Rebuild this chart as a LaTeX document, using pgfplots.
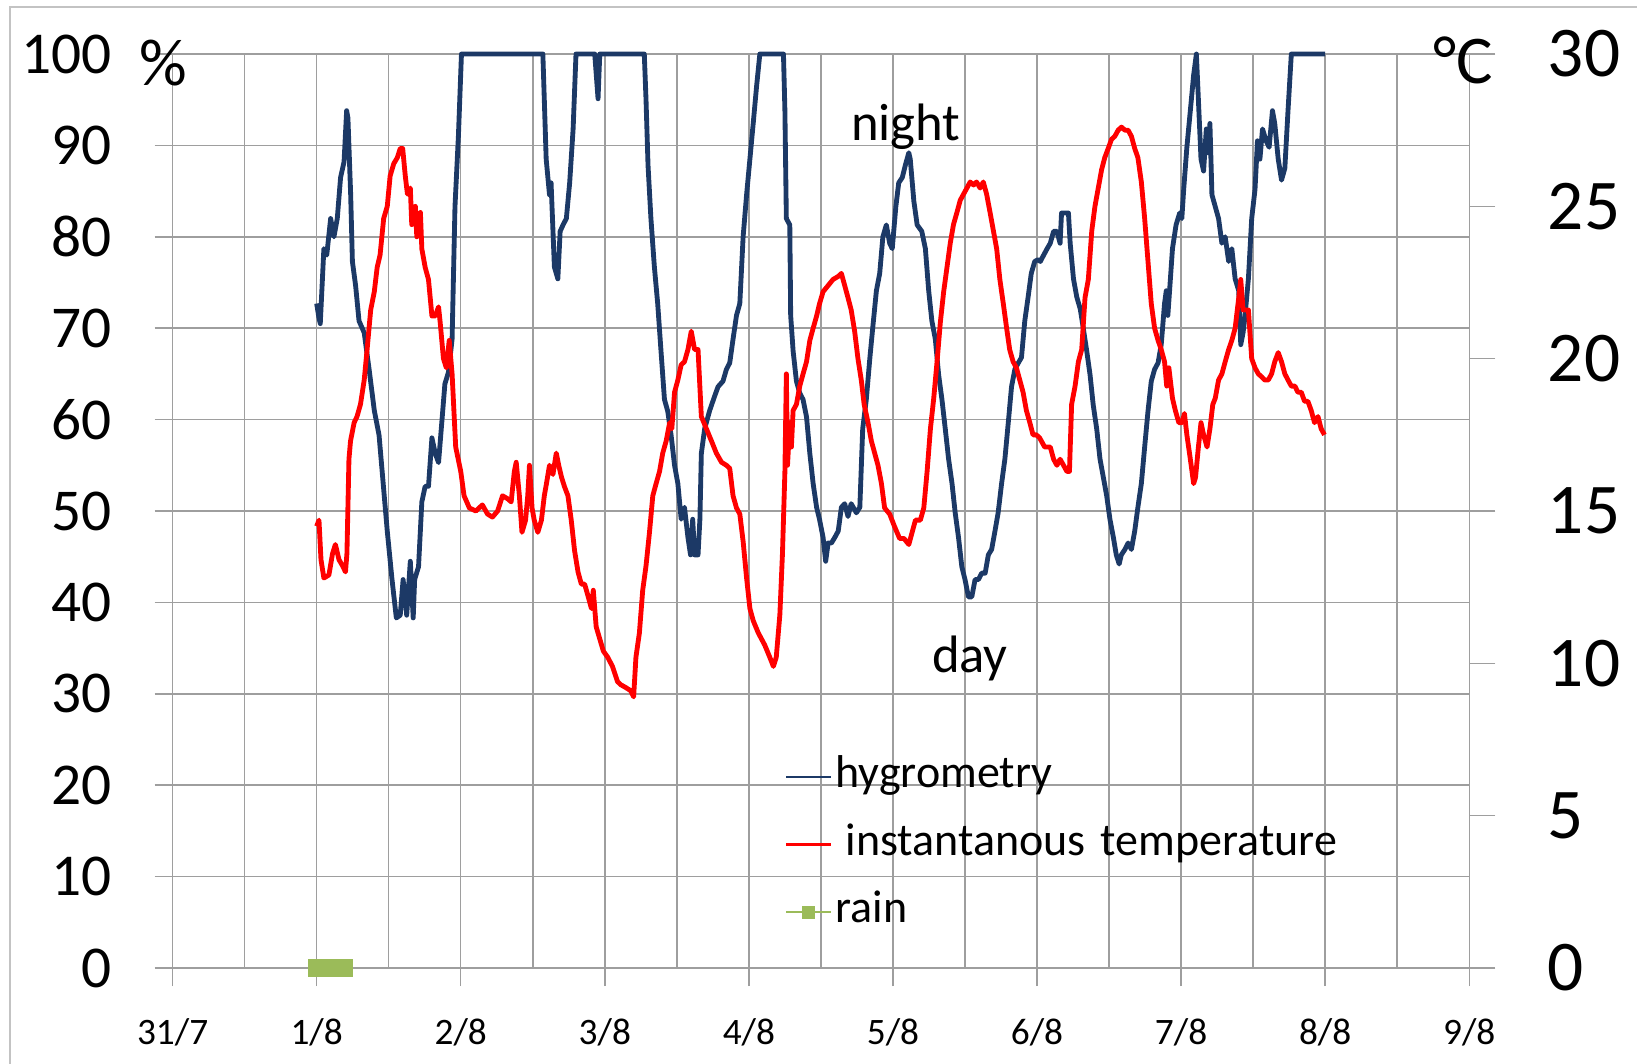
\documentclass[border=0pt]{standalone}
\usepackage{fontspec}
\setmainfont{Carlito}
\usepackage{pgfplots}
\usepackage{pgfplotstable}
\pgfplotsset{compat=1.18}
\definecolor{hyg}{RGB}{28,57,102}
\definecolor{tmp}{RGB}{255,0,0}
\definecolor{rainc}{RGB}{155,187,89}
\definecolor{gridc}{RGB}{158,158,158}
\definecolor{framec}{RGB}{195,195,195}

\pgfplotstableread{
d h
1.000 72.7
1.016 71.1
1.025 70.5
1.050 78.7
1.070 78.0
1.097 82.0
1.120 80.0
1.143 82.0
1.166 86.5
1.190 88.2
1.208 93.8
1.217 93.0
1.236 84.6
1.248 77.3
1.270 74.7
1.294 70.8
1.330 69.5
1.364 65.5
1.400 61.0
1.433 58.3
1.465 52.4
1.490 47.8
1.523 42.5
1.553 38.3
1.580 38.6
1.600 42.5
1.625 38.6
1.650 44.5
1.670 38.3
1.680 42.5
1.707 43.9
1.730 51.0
1.753 52.7
1.776 52.7
1.800 58.0
1.823 56.3
1.846 55.3
1.868 59.6
1.890 63.9
1.915 65.2
1.940 68.8
1.960 83.3
1.984 91.1
2.005 100
2.570 100
2.593 88.5
2.616 84.6
2.627 85.9
2.650 76.7
2.674 75.4
2.690 80.6
2.710 81.3
2.733 82.0
2.756 85.9
2.780 91.8
2.800 100
2.930 100
2.953 95.1
2.965 100
3.274 100
3.286 95.0
3.300 87.8
3.320 82.0
3.344 76.7
3.367 72.7
3.390 67.5
3.414 62.2
3.437 60.9
3.460 58.3
3.484 55.0
3.507 53.0
3.530 49.1
3.553 50.4
3.577 47.1
3.595 45.2
3.610 49.1
3.623 45.2
3.647 45.2
3.660 49.1
3.670 56.3
3.693 59.0
3.728 61.0
3.763 62.6
3.786 63.6
3.820 64.2
3.844 65.5
3.867 66.2
3.890 68.8
3.914 71.4
3.937 72.7
3.960 80.0
3.984 84.6
4.007 88.5
4.030 92.4
4.053 96.4
4.076 100
4.240 100
4.250 93.8
4.260 82.0
4.284 81.3
4.290 71.4
4.307 67.5
4.330 64.2
4.353 62.9
4.376 62.2
4.400 60.3
4.423 56.3
4.446 53.0
4.470 50.4
4.490 49.1
4.515 47.1
4.533 44.5
4.550 46.5
4.573 46.5
4.596 47.1
4.620 47.8
4.642 50.4
4.665 50.8
4.688 49.4
4.710 50.8
4.746 49.8
4.770 50.4
4.790 59.0
4.815 62.2
4.840 66.8
4.860 70.1
4.885 74.1
4.908 76.0
4.930 80.0
4.954 81.3
4.977 79.3
4.995 78.7
5.020 83.3
5.040 85.9
5.065 86.5
5.087 87.9
5.110 89.2
5.120 88.5
5.145 83.9
5.168 81.3
5.200 80.6
5.225 78.7
5.248 74.1
5.270 70.8
5.294 68.8
5.317 64.9
5.340 62.2
5.363 59.0
5.386 55.7
5.410 53.0
5.432 49.8
5.455 47.1
5.478 43.9
5.500 42.5
5.524 40.6
5.547 40.6
5.570 42.5
5.593 42.5
5.616 43.2
5.640 43.2
5.662 45.2
5.685 45.8
5.708 47.8
5.730 49.8
5.754 53.0
5.777 55.7
5.800 59.6
5.823 63.6
5.846 65.5
5.870 66.2
5.892 66.8
5.915 70.8
5.938 73.4
5.960 76.0
5.984 77.3
6.007 77.5
6.023 77.3
6.046 78.0
6.070 78.7
6.092 79.3
6.115 80.6
6.138 80.6
6.160 79.3
6.170 82.6
6.218 82.6
6.230 79.3
6.253 75.4
6.276 73.4
6.300 72.1
6.320 70.1
6.345 67.5
6.368 64.9
6.390 61.6
6.414 59.0
6.437 55.7
6.460 53.7
6.483 51.7
6.506 49.1
6.530 47.1
6.550 45.2
6.570 44.2
6.585 45.2
6.610 45.8
6.632 46.5
6.655 45.8
6.678 47.8
6.700 50.4
6.724 53.0
6.747 57.0
6.770 60.9
6.793 64.2
6.816 65.5
6.840 66.2
6.862 68.2
6.885 72.7
6.897 74.1
6.908 71.4
6.920 74.1
6.940 78.7
6.965 81.3
6.990 82.6
7.005 82.0
7.018 85.2
7.040 89.8
7.064 93.8
7.087 97.7
7.106 100
7.120 95.0
7.138 88.5
7.156 87.2
7.175 91.8
7.190 89.2
7.200 92.4
7.214 84.6
7.237 83.3
7.260 82.0
7.283 79.3
7.306 80.0
7.330 77.3
7.352 78.7
7.375 75.4
7.400 74.1
7.414 68.2
7.430 69.5
7.444 71.4
7.467 75.4
7.490 82.0
7.513 85.2
7.530 90.5
7.547 88.5
7.565 91.8
7.590 90.5
7.611 89.8
7.634 93.8
7.650 92.4
7.674 88.5
7.697 86.2
7.720 87.5
7.742 93.8
7.765 100
8.000 100
}\hygtable

\pgfplotstableread{
d t
1.000 14.5
1.016 14.7
1.030 13.4
1.050 12.8
1.085 12.9
1.110 13.6
1.130 13.9
1.155 13.4
1.180 13.2
1.200 13.0
1.210 13.6
1.224 16.7
1.235 17.3
1.260 17.9
1.280 18.1
1.304 18.5
1.330 19.3
1.350 20.3
1.375 21.6
1.400 22.2
1.420 23.0
1.440 23.4
1.465 24.6
1.490 25.0
1.510 26.0
1.535 26.4
1.560 26.6
1.580 26.9
1.597 26.9
1.615 26.0
1.630 25.4
1.650 25.6
1.660 24.4
1.685 25.0
1.695 24.0
1.720 24.8
1.730 23.6
1.753 23.0
1.776 22.6
1.800 21.4
1.823 21.4
1.846 21.7
1.857 21.2
1.880 20.0
1.900 19.7
1.920 20.6
1.940 19.5
1.965 17.1
2.000 16.3
2.023 15.5
2.060 15.1
2.105 15.0
2.150 15.2
2.186 14.9
2.220 14.8
2.256 15.0
2.290 15.5
2.326 15.4
2.350 15.3
2.372 16.3
2.385 16.6
2.407 15.5
2.425 14.3
2.450 14.7
2.465 15.5
2.477 16.5
2.495 15.1
2.510 14.7
2.535 14.3
2.560 14.7
2.580 15.5
2.595 15.9
2.616 16.5
2.640 16.2
2.663 16.9
2.680 16.5
2.700 16.1
2.720 15.8
2.744 15.5
2.767 14.7
2.790 13.7
2.814 13.0
2.837 12.6
2.860 12.6
2.884 12.2
2.907 11.8
2.920 12.4
2.940 11.2
2.965 10.8
2.990 10.4
3.020 10.2
3.053 9.9
3.088 9.4
3.110 9.3
3.147 9.2
3.180 9.1
3.200 8.9
3.216 10.2
3.240 11.0
3.263 12.4
3.286 13.2
3.310 14.3
3.333 15.5
3.356 15.9
3.380 16.3
3.402 16.9
3.426 17.3
3.450 17.9
3.465 17.7
3.484 18.9
3.507 19.3
3.530 19.8
3.553 19.9
3.577 20.3
3.600 20.9
3.623 20.3
3.647 20.3
3.670 18.1
3.705 17.7
3.740 17.3
3.774 16.9
3.810 16.6
3.844 16.5
3.867 16.4
3.890 15.5
3.914 15.1
3.937 14.9
3.960 14.0
3.984 12.8
4.007 11.8
4.030 11.4
4.065 11.0
4.110 10.6
4.145 10.2
4.170 9.9
4.190 10.2
4.215 11.6
4.233 13.6
4.250 16.3
4.260 19.5
4.268 16.5
4.284 17.9
4.295 17.1
4.307 18.3
4.330 18.5
4.353 19.1
4.376 19.5
4.400 19.9
4.423 20.6
4.446 21.0
4.470 21.4
4.490 21.8
4.515 22.2
4.550 22.4
4.584 22.6
4.620 22.7
4.642 22.8
4.665 22.4
4.688 22.0
4.710 21.6
4.734 20.9
4.757 20.0
4.780 19.3
4.800 18.5
4.827 17.9
4.850 17.3
4.873 16.9
4.896 16.5
4.920 15.9
4.942 15.1
4.977 14.9
5.010 14.5
5.046 14.1
5.076 14.1
5.110 13.9
5.133 14.3
5.156 14.7
5.190 14.7
5.214 15.1
5.237 16.3
5.260 17.7
5.283 18.7
5.306 19.9
5.329 21.2
5.352 22.2
5.375 23.0
5.398 23.8
5.420 24.4
5.444 24.8
5.467 25.2
5.490 25.4
5.513 25.6
5.536 25.8
5.560 25.7
5.580 25.8
5.605 25.6
5.627 25.8
5.650 25.4
5.674 24.8
5.697 24.2
5.720 23.6
5.742 22.6
5.766 21.8
5.789 21.0
5.810 20.3
5.834 19.9
5.857 19.7
5.880 19.3
5.903 18.9
5.926 18.3
5.950 17.9
5.972 17.5
5.995 17.5
6.018 17.4
6.053 17.1
6.092 17.1
6.115 16.7
6.138 16.5
6.160 16.7
6.184 16.5
6.207 16.3
6.225 16.3
6.240 18.5
6.264 19.1
6.287 19.9
6.310 20.3
6.333 22.0
6.356 22.6
6.380 24.2
6.402 25.0
6.425 25.6
6.448 26.2
6.470 26.6
6.494 26.9
6.517 27.2
6.540 27.3
6.563 27.5
6.586 27.6
6.610 27.5
6.632 27.5
6.655 27.3
6.678 26.9
6.700 26.6
6.724 25.8
6.747 24.6
6.770 23.2
6.793 21.8
6.816 21.0
6.840 20.6
6.862 20.3
6.885 19.9
6.900 19.1
6.915 19.7
6.940 18.7
6.960 18.3
6.984 17.9
7.007 17.9
7.023 18.2
7.040 17.5
7.064 16.7
7.087 15.9
7.100 16.1
7.120 17.1
7.138 17.9
7.156 17.5
7.180 17.1
7.200 17.7
7.220 18.5
7.237 18.7
7.260 19.3
7.283 19.5
7.306 19.9
7.330 20.3
7.352 20.6
7.375 21.0
7.400 22.0
7.414 22.6
7.430 21.6
7.467 21.6
7.490 20.0
7.513 19.7
7.536 19.5
7.560 19.4
7.580 19.3
7.605 19.3
7.628 19.5
7.650 19.9
7.674 20.2
7.697 19.9
7.720 19.5
7.742 19.3
7.765 19.1
7.790 19.1
7.810 18.9
7.834 18.9
7.857 18.6
7.880 18.6
7.903 18.3
7.926 17.9
7.950 18.1
7.972 17.7
7.995 17.5
}\tmptable

\begin{document}
\begin{tikzpicture}
\begin{axis}[
  at={(0pt,0pt)}, anchor=south west,
  scale only axis, width=389pt, height=274.2pt,
  xmin=0, xmax=9, ymin=0, ymax=100, clip=false,
  xtick={0,1,...,9},
  xticklabels={31/7,1/8,2/8,3/8,4/8,5/8,6/8,7/8,8/8,9/8},
  minor xtick={0.5,1.5,...,8.5},
  ytick={0,10,...,100},
  grid=both,
  major grid style={draw=gridc, line width=0.45pt},
  minor grid style={draw=gridc, line width=0.45pt},
  axis line style={draw=gridc, line width=0.45pt},
  tick style={draw=gridc, line width=0.45pt},
  tick align=outside, tick pos=left,
  major tick length=5.4pt, minor tick length=0pt,
  /pgf/number format/assume math mode=true,
  yticklabel style={font=\fontsize{17.8}{20}\selectfont, anchor=east, inner sep=0pt},
  xticklabel style={font=\fontsize{11.2}{13}\selectfont, anchor=north, inner sep=0pt},
  yticklabel shift=12.6pt,
  xticklabel shift=9.6pt,
]
\addplot[hyg, line width=1.45pt, line join=round] table[x=d, y=h] {\hygtable};
\addplot[rainc, line width=1pt, mark=square*, mark size=2.25pt, mark options={draw=rainc, fill=rainc}]
  coordinates {(1.005,0) (1.04,0) (1.07,0) (1.10,0) (1.13,0) (1.16,0) (1.19,0)};
\end{axis}
\begin{axis}[
  at={(0pt,0pt)}, anchor=south west,
  scale only axis, width=389pt, height=274.2pt,
  xmin=0, xmax=9, ymin=0, ymax=30, clip=false,
  hide x axis,
  axis y line*=right,
  ytick={0,5,...,30},
  axis line style={draw=gridc, line width=0.45pt},
  tick style={draw=gridc, line width=0.45pt},
  tick align=outside, major tick length=7.8pt,
  /pgf/number format/assume math mode=true,
  yticklabel style={font=\fontsize{21.4}{24}\selectfont, anchor=west, inner sep=0pt},
  yticklabel shift=15.6pt,
  legend cell align=left,
  legend style={draw=none, fill=none, at={(0.4722,0.2338)}, anchor=north west,
    inner sep=0pt, outer sep=0pt, row sep=6.8pt, column sep=1pt,
    font=\fontsize{13.8}{16}\selectfont,
    nodes={inner sep=0pt, text height=10pt, text depth=3.5pt}},
  legend image code/.code={\draw[#1, line width=0.7pt, mark size=1.6pt] plot coordinates {(0pt,0pt) (6.75pt,0pt) (13.5pt,0pt)};},
]
\addlegendimage{hyg, line width=1.45pt}
\addlegendentry{hygrometry}
\addplot[tmp, line width=1.45pt, line join=round] table[x=d, y=t] {\tmptable};
\addlegendentry{\hspace{3pt}instantanous\hspace{4.5pt}temperature}
\addlegendimage{rainc, mark=square*, mark repeat=2, mark phase=2, mark options={draw=rainc, fill=rainc}}
\addlegendentry{rain}
\end{axis}
\node[font=\fontsize{20}{24}\selectfont, inner sep=0pt] at (-2.9pt,271.5pt) {\%};
\node[font=\fontsize{20.5}{24}\selectfont, inner sep=0pt] at (387.1pt,272.4pt) {°C};
\node[font=\fontsize{15.8}{18}\selectfont, inner sep=0pt, anchor=base] at (220.0pt,248.1pt) {night};
\node[font=\fontsize{15.8}{18}\selectfont, inner sep=0pt, anchor=base] at (239.2pt,88.5pt) {day};
\draw[framec, line width=0.6pt] (-48.78pt,-40pt) -- (-48.78pt,288.3pt) -- (450pt,288.3pt);
\pgfresetboundingbox
\path[use as bounding box] (-51.78pt,-28.8pt) rectangle (439.32pt,290.4pt);
\end{tikzpicture}
\end{document}
